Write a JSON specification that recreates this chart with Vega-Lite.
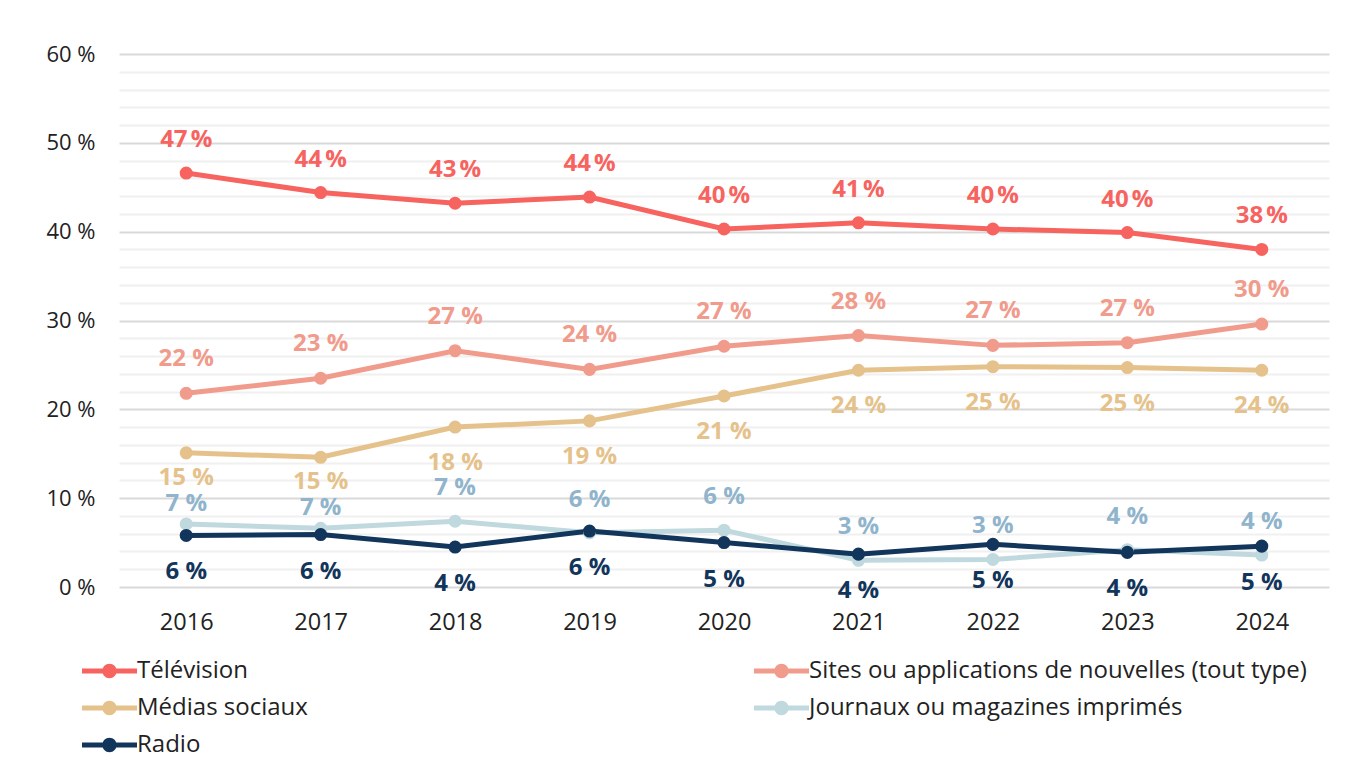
{
  "$schema": "https://vega.github.io/schema/vega-lite/v6.json",
  "width": 1210,
  "height": 533,
  "autosize": "none",
  "padding": {"left": 119, "top": 54, "right": 38, "bottom": 170},
  "background": "#ffffff",
  "config": {
    "font": "Open Sans",
    "view": {"stroke": null}
  },
  "data": {
    "values": [
      {"year": "2016", "series": "Télévision", "value": 46.6, "label": "47\u202f%"},
      {"year": "2017", "series": "Télévision", "value": 44.4, "label": "44\u202f%"},
      {"year": "2018", "series": "Télévision", "value": 43.2, "label": "43\u202f%"},
      {"year": "2019", "series": "Télévision", "value": 43.9, "label": "44\u202f%"},
      {"year": "2020", "series": "Télévision", "value": 40.3, "label": "40\u202f%"},
      {"year": "2021", "series": "Télévision", "value": 41.0, "label": "41\u202f%"},
      {"year": "2022", "series": "Télévision", "value": 40.3, "label": "40\u202f%"},
      {"year": "2023", "series": "Télévision", "value": 39.9, "label": "40\u202f%"},
      {"year": "2024", "series": "Télévision", "value": 38.0, "label": "38\u202f%"},
      {"year": "2016", "series": "Sites ou applications de nouvelles (tout type)", "value": 21.8, "label": "22 %"},
      {"year": "2017", "series": "Sites ou applications de nouvelles (tout type)", "value": 23.5, "label": "23 %"},
      {"year": "2018", "series": "Sites ou applications de nouvelles (tout type)", "value": 26.6, "label": "27 %"},
      {"year": "2019", "series": "Sites ou applications de nouvelles (tout type)", "value": 24.5, "label": "24 %"},
      {"year": "2020", "series": "Sites ou applications de nouvelles (tout type)", "value": 27.1, "label": "27 %"},
      {"year": "2021", "series": "Sites ou applications de nouvelles (tout type)", "value": 28.3, "label": "28 %"},
      {"year": "2022", "series": "Sites ou applications de nouvelles (tout type)", "value": 27.2, "label": "27 %"},
      {"year": "2023", "series": "Sites ou applications de nouvelles (tout type)", "value": 27.5, "label": "27 %"},
      {"year": "2024", "series": "Sites ou applications de nouvelles (tout type)", "value": 29.6, "label": "30 %"},
      {"year": "2016", "series": "Médias sociaux", "value": 15.1, "label": "15 %"},
      {"year": "2017", "series": "Médias sociaux", "value": 14.6, "label": "15 %"},
      {"year": "2018", "series": "Médias sociaux", "value": 18.0, "label": "18 %"},
      {"year": "2019", "series": "Médias sociaux", "value": 18.7, "label": "19 %"},
      {"year": "2020", "series": "Médias sociaux", "value": 21.5, "label": "21 %"},
      {"year": "2021", "series": "Médias sociaux", "value": 24.4, "label": "24 %"},
      {"year": "2022", "series": "Médias sociaux", "value": 24.8, "label": "25 %"},
      {"year": "2023", "series": "Médias sociaux", "value": 24.7, "label": "25 %"},
      {"year": "2024", "series": "Médias sociaux", "value": 24.4, "label": "24 %"},
      {"year": "2016", "series": "Journaux ou magazines imprimés", "value": 7.1, "label": "7 %"},
      {"year": "2017", "series": "Journaux ou magazines imprimés", "value": 6.6, "label": "7 %"},
      {"year": "2018", "series": "Journaux ou magazines imprimés", "value": 7.4, "label": "7 %"},
      {"year": "2019", "series": "Journaux ou magazines imprimés", "value": 6.1, "label": "6 %"},
      {"year": "2020", "series": "Journaux ou magazines imprimés", "value": 6.4, "label": "6 %"},
      {"year": "2021", "series": "Journaux ou magazines imprimés", "value": 3.0, "label": "3 %"},
      {"year": "2022", "series": "Journaux ou magazines imprimés", "value": 3.1, "label": "3 %"},
      {"year": "2023", "series": "Journaux ou magazines imprimés", "value": 4.2, "label": "4 %"},
      {"year": "2024", "series": "Journaux ou magazines imprimés", "value": 3.6, "label": "4 %"},
      {"year": "2016", "series": "Radio", "value": 5.8, "label": "6 %"},
      {"year": "2017", "series": "Radio", "value": 5.9, "label": "6 %"},
      {"year": "2018", "series": "Radio", "value": 4.5, "label": "4 %"},
      {"year": "2019", "series": "Radio", "value": 6.3, "label": "6 %"},
      {"year": "2020", "series": "Radio", "value": 5.0, "label": "5 %"},
      {"year": "2021", "series": "Radio", "value": 3.7, "label": "4 %"},
      {"year": "2022", "series": "Radio", "value": 4.8, "label": "5 %"},
      {"year": "2023", "series": "Radio", "value": 3.9, "label": "4 %"},
      {"year": "2024", "series": "Radio", "value": 4.6, "label": "5 %"}
    ]
  },
  "encoding": {
    "x": {
      "field": "year",
      "type": "ordinal",
      "scale": {"type": "point", "padding": 0.5},
      "axis": {
        "title": null,
        "labelAngle": 0,
        "ticks": false,
        "domain": false,
        "labelFontSize": 23.5,
        "labelColor": "#222222",
        "labelPadding": 23
      }
    },
    "y": {
      "field": "value",
      "type": "quantitative",
      "scale": {"domain": [0, 60], "nice": false},
      "axis": {
        "title": null,
        "values": [0, 2, 4, 6, 8, 10, 12, 14, 16, 18, 20, 22, 24, 26, 28, 30, 32, 34, 36, 38, 40, 42, 44, 46, 48, 50, 52, 54, 56, 58, 60],
        "labelExpr": "datum.value % 10 === 0 ? datum.value + ' %' : ''",
        "ticks": false,
        "domain": false,
        "labelFontSize": 22,
        "labelColor": "#222222",
        "labelPadding": 24,
        "gridWidth": 2,
        "gridColor": {"condition": {"test": "datum.value % 10 === 0", "value": "#d9d9d9"}, "value": "#f0f0f0"}
      }
    },
    "color": {
      "field": "series",
      "type": "nominal",
      "scale": {
        "domain": ["Télévision", "Sites ou applications de nouvelles (tout type)", "Médias sociaux", "Journaux ou magazines imprimés", "Radio"],
        "range": ["#f7635f", "#f09b8b", "#e5c28b", "#bfd9df", "#12355b"]
      },
      "legend": {
        "title": null,
        "orient": "none",
        "direction": "horizontal",
        "legendX": -39,
        "legendY": 605,
        "columns": 2,
        "columnPadding": 444,
        "rowPadding": 13,
        "padding": 0,
        "symbolType": "M-1,-0.25 L4.5,-0.25 L4.5,0.25 L-1,0.25 Z M2.47,0 A0.72,0.72 0 1,1 1.03,0 A0.72,0.72 0 1,1 2.47,0 Z",
        "symbolSize": 400,
        "symbolStrokeWidth": 0,
        "symbolOpacity": 1,
        "labelOffset": 33,
        "labelFontSize": 24,
        "labelColor": "#222222",
        "labelLimit": 700
      }
    }
  },
  "layer": [
    {
      "mark": {"type": "line", "strokeWidth": 5}
    },
    {
      "mark": {"type": "circle", "size": 170, "opacity": 1}
    },
    {
      "transform": [{"filter": "datum.series === 'Télévision'"}],
      "mark": {"type": "text", "dy": -33, "fontSize": 24, "fontWeight": "bold", "baseline": "middle"},
      "encoding": {"text": {"field": "label"}, "color": {"value": "#f7635f"}}
    },
    {
      "transform": [{"filter": "datum.series === 'Sites ou applications de nouvelles (tout type)'"}],
      "mark": {"type": "text", "dy": -34, "fontSize": 24, "fontWeight": "bold", "baseline": "middle"},
      "encoding": {"text": {"field": "label"}, "color": {"value": "#f09b8b"}}
    },
    {
      "transform": [{"filter": "datum.series === 'Médias sociaux' && datum.year >= '2018'"}],
      "mark": {"type": "text", "dy": 36, "fontSize": 24, "fontWeight": "bold", "baseline": "middle"},
      "encoding": {"text": {"field": "label"}, "color": {"value": "#e5c28b"}}
    },
    {
      "transform": [{"filter": "datum.series === 'Médias sociaux' && datum.year < '2018'"}],
      "mark": {"type": "text", "dy": 25, "fontSize": 24, "fontWeight": "bold", "baseline": "middle"},
      "encoding": {"text": {"field": "label"}, "color": {"value": "#e5c28b"}}
    },
    {
      "transform": [{"filter": "datum.series === 'Journaux ou magazines imprimés' && datum.year >= '2018'"}],
      "mark": {"type": "text", "dy": -33, "fontSize": 24, "fontWeight": "bold", "baseline": "middle"},
      "encoding": {"text": {"field": "label"}, "color": {"value": "#8fb4cc"}}
    },
    {
      "transform": [{"filter": "datum.series === 'Journaux ou magazines imprimés' && datum.year < '2018'"}],
      "mark": {"type": "text", "dy": -20, "fontSize": 24, "fontWeight": "bold", "baseline": "middle"},
      "encoding": {"text": {"field": "label"}, "color": {"value": "#8fb4cc"}}
    },
    {
      "transform": [{"filter": "datum.series === 'Radio'"}],
      "mark": {"type": "text", "dy": 37, "fontSize": 24, "fontWeight": "bold", "baseline": "middle"},
      "encoding": {"text": {"field": "label"}, "color": {"value": "#12355b"}}
    }
  ]
}
